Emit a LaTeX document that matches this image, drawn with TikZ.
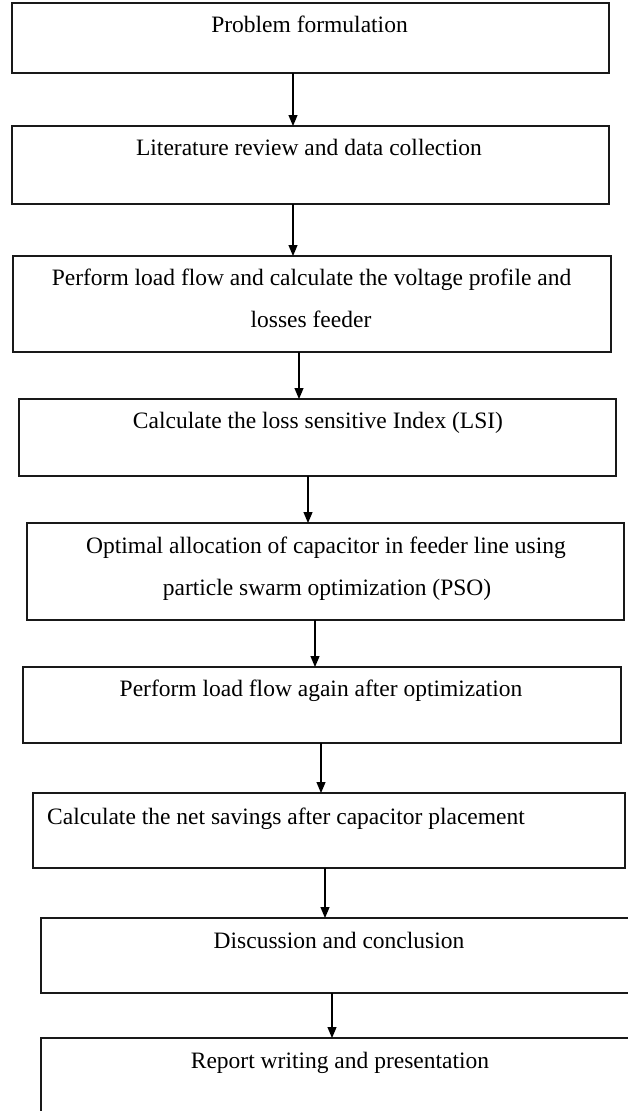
\documentclass[tikz,border=0pt]{standalone}
\usepackage{fontspec}
\setmainfont{Liberation Serif}
\usetikzlibrary{arrows.meta}
\begin{document}
\begin{tikzpicture}[x=1pt,y=-1pt,
  box/.style={draw=black!90, line width=1.4pt, anchor=north west, inner sep=0pt, outer sep=0pt},
  txt/.style={anchor=base, inner sep=0pt, font=\fontsize{23.5}{28}\selectfont},
  arr/.style={line width=1.2pt, -{Triangle[length=11pt,width=9pt]}}]
\useasboundingbox (0,0) rectangle (628,1111);
\clip (0,0) rectangle (628,1111);
% boxes
\node[box, minimum width=597pt, minimum height=70pt] (b1) at (12,3) {};
\node[box, minimum width=597pt, minimum height=78pt] (b2) at (12,126) {};
\node[box, minimum width=598pt, minimum height=96pt] (b3) at (13,256) {};
\node[box, minimum width=597pt, minimum height=77pt] (b4) at (19,399) {};
\node[box, minimum width=597pt, minimum height=97pt] (b5) at (27,523) {};
\node[box, minimum width=598pt, minimum height=76pt] (b6) at (23,667) {};
\node[box, minimum width=592pt, minimum height=75pt] (b7) at (33,793) {};
\node[box, minimum width=596pt, minimum height=75pt] (b8) at (41,918) {};
\node[box, minimum width=596pt, minimum height=95pt] (b9) at (41,1038) {};
% texts
\node[txt] (t1) at (309.5,32) {Problem formulation};
\node[txt] (t2) at (309,155) {Literature review and data collection};
\node[txt] (t3a) at (311.5,285) {Perform load flow and calculate the voltage profile and};
\node[txt] (t3b) at (311,327) {losses feeder};
\node[txt] (t4) at (318,428) {Calculate the loss sensitive Index (LSI)};
\node[txt] (t5a) at (326,553) {Optimal allocation of capacitor in feeder line using};
\node[txt] (t5b) at (327,595) {particle swarm optimization (PSO)};
\node[txt] (t6) at (321,696) {Perform load flow again after optimization};
\node[txt, anchor=base west] (t7) at (47,824) {Calculate the net savings after capacitor placement};
\node[txt] (t8) at (339,948) {Discussion and conclusion};
\node[txt] (t9) at (340,1068) {Report writing and presentation};
% arrow columns
\coordinate (c1) at (293,0);
\coordinate (c2) at (293,0);
\coordinate (c3) at (299,0);
\coordinate (c4) at (308,0);
\coordinate (c5) at (315,0);
\coordinate (c6) at (321,0);
\coordinate (c7) at (325,0);
\coordinate (c8) at (332,0);
\draw[arr] (b1.south -| c1) -- (b2.north -| c1);
\draw[arr] (b2.south -| c2) -- (b3.north -| c2);
\draw[arr] (b3.south -| c3) -- (b4.north -| c3);
\draw[arr] (b4.south -| c4) -- (b5.north -| c4);
\draw[arr] (b5.south -| c5) -- (b6.north -| c5);
\draw[arr] (b6.south -| c6) -- (b7.north -| c6);
\draw[arr] (b7.south -| c7) -- (b8.north -| c7);
\draw[arr] (b8.south -| c8) -- (b9.north -| c8);
\end{tikzpicture}
\end{document}
